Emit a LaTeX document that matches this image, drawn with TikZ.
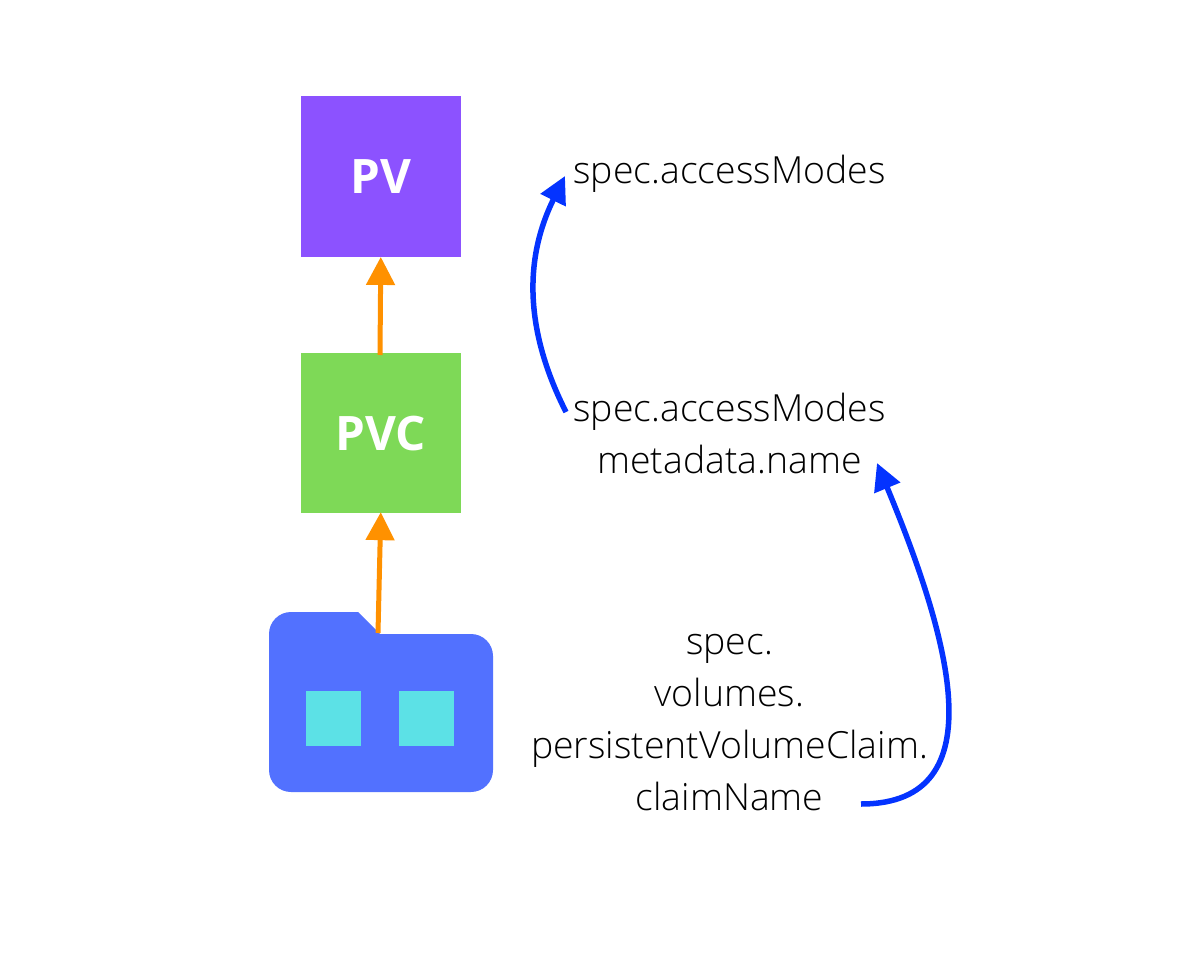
\documentclass[tikz,border=0pt]{standalone}
\usepackage{fontspec}
\setmainfont{Open Sans Light}
\newfontfamily\boldlabel{Open Sans}
\usetikzlibrary{arrows.meta}
\definecolor{pvpurple}{HTML}{8C52FF}
\definecolor{pvcgreen}{HTML}{7ED957}
\definecolor{folderblue}{HTML}{5271FF}
\definecolor{slotcyan}{HTML}{5CE1E6}
\definecolor{linkorange}{HTML}{FF9100}
\definecolor{refblue}{HTML}{0433FF}
\tikzset{
    res/.style={minimum size=160.5pt,inner sep=0pt,font=\fontsize{47.5pt}{47.5pt}\selectfont\boldlabel\bfseries,text=white},
    slot/.style={fill=slotcyan,minimum size=54.5pt,inner sep=0pt},
    field/.style={font=\fontsize{37.4pt}{37.4pt}\selectfont,inner sep=0pt,text=black,anchor=base},
    owner/.style={-{Triangle[length=28pt,width=28pt]},linkorange,line width=5pt},
    ref/.style={-{Triangle[length=27pt,width=27pt]},refblue,line width=5.5pt},
}
\begin{document}
\begin{tikzpicture}[x=1pt,y=-1pt]
    \useasboundingbox (0,0) rectangle (1200,960);
    \node[res,fill=pvpurple] (pv) at (380.8,176.5) {PV};
    \node[res,fill=pvcgreen] (pvc) at (380.8,433.2) {PVC};

    % folder
    \fill[folderblue] (358,612) -- (380,634) [rounded corners=22pt] -- (493,634) -- (493,792) -- (269,792) -- (269,612) [sharp corners] -- cycle;
    \coordinate (foldertop) at (378,633);
    \coordinate (pvctop) at (380,355);
    \node[slot] (slota) at (333.5,718.3) {};
    \node[slot] (slotb) at (426.7,718.3) {};

    \draw[owner] (pvctop) -- (pv.south);
    \draw[owner] (foldertop) -- ([yshift=1.5pt]pvc.south);

    \node[field] (pvmodes) at (729.5,183.7) {spec.accessModes};
    \node[field] (pvcmodes) at (729.5,421) {spec.accessModes};
    \node[field] (pvcname) at (729.5,473.5) {metadata.name};
    \node[field] (podspec) at (729.5,654) {spec.};
    \node[field] (podvol) at (729.5,706) {volumes.};
    \node[field] (podpvc) at (729.5,758) {persistentVolumeClaim.};
    \node[field] (podclaim) at (729.5,810) {claimName};

    \coordinate (modestail) at (566,412);
    \coordinate (modeshead) at (565,176);
    \coordinate (nametail) at (861,804);
    \coordinate (namehead) at (877,463);
    \draw[ref] (modestail) .. controls (527,335) and (522,263) .. (modeshead);
    \draw[ref] (nametail) .. controls (1000,804) and (947,632) .. (namehead);
\end{tikzpicture}
\end{document}
